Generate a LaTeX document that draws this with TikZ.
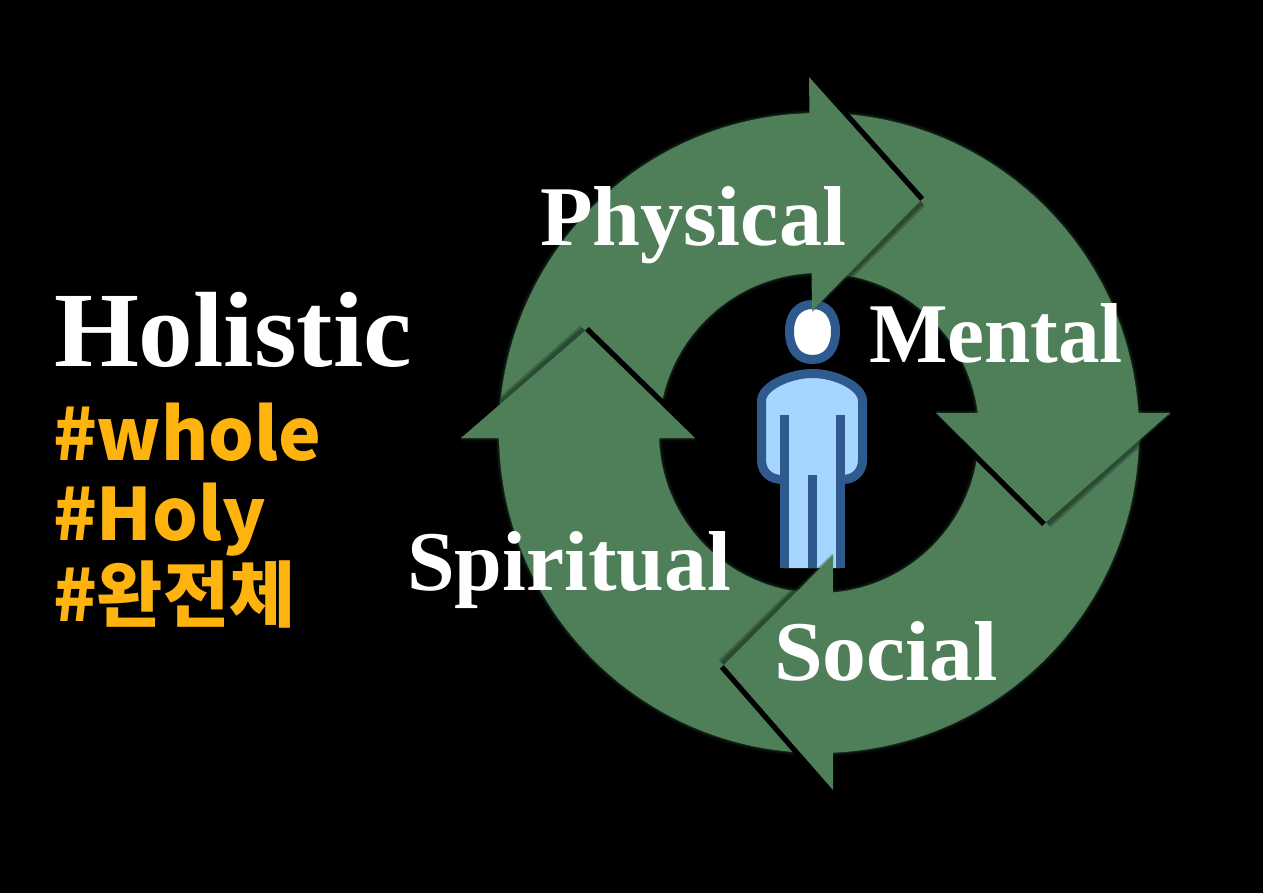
\documentclass[tikz,border=0pt]{standalone}
\usepackage{fontspec}
\usepackage{graphicx}
\usetikzlibrary{calc}
\newfontfamily\tagfont{Noto Sans CJK KR Black}
\newfontfamily\headfont{Liberation Serif}
\definecolor{ringgreen}{HTML}{4E7F59}
\definecolor{banddark}{HTML}{2A4A33}
\definecolor{bandmid}{HTML}{3A6345}
\definecolor{glowgreen}{HTML}{4E7F59}
\definecolor{pstroke}{HTML}{2E5A8E}
\definecolor{pfill}{HTML}{A6D5FF}
\definecolor{tagcol}{HTML}{FFB30F}
\tikzset{
  title/.style={text=white,anchor=base west,inner sep=0pt,outer sep=0pt},
  hashtag/.style={text=tagcol,anchor=base west,inner sep=0pt,outer sep=0pt,font=\tagfont\fontsize{72}{72}\selectfont},
  pline/.style={draw=pstroke,line width=9pt,line cap=butt,line join=round},
}
\newcommand\serifl[3]{\resizebox{#1pt}{\height}{\headfont\bfseries\fontsize{#2}{#2}\selectfont #3}}
% #6, #7 = turn angles at the two ends, giving the outer side of the edge
\newcommand\edgeband[7]{\fill[#4] (#1) -- ($(#1)!#3pt!#6:(#2)$) -- ($(#2)!#5*#3pt!#7:(#1)$) -- (#2) -- cycle;}
\begin{document}
\begin{tikzpicture}[x=1pt,y=-1pt]
\fill[black] (0,0) rectangle (1263,893);
\useasboundingbox (0,0) rectangle (1263,893);
\coordinate (c) at (819,433);
% a = corner on the black-shadow edge, t = tip, b = corner on the dark-green edge
\coordinate (a1) at (809,77);   \coordinate (t1) at (920,201); \coordinate (b1) at (812,311);
\coordinate (a2) at (936,413);  \coordinate (t2) at (1046,522);\coordinate (b2) at (1170,413);
\coordinate (a3) at (833,790);  \coordinate (t3) at (724,665); \coordinate (b3) at (833,555);
\coordinate (a4) at (695,438);  \coordinate (t4) at (585,331); \coordinate (b4) at (461,438);
% soft shadow round the ring and the head bases
\begin{scope}[shift={(2.5,2.5)}]
  \foreach \w/\o in {7/.06,4.5/.10,2/.16}{
    \draw[glowgreen,opacity=\o,line width=\w pt] (c) circle [radius=320] (c) circle [radius=160];
    \draw[glowgreen,opacity=\o,line width=\w pt] (a4) -- (b4);
    \draw[glowgreen,opacity=\o,line width=\w pt] (a2) -- (b2);
  }
\end{scope}
% person
\filldraw[fill=white,pline] (812.5,304.5)
  .. controls (827,304.5) and (835.5,315) .. (835.5,331)
  .. controls (835.5,349) and (827,359.5) .. (812.5,359.5)
  .. controls (798,359.5) and (789.5,349) .. (789.5,331)
  .. controls (789.5,315) and (798,304.5) .. (812.5,304.5) -- cycle;
\fill[pfill] (761.5,397) .. controls (770,384) and (792,373.5) .. (812.5,373.5)
  .. controls (833,373.5) and (855,384) .. (862.5,397)
  -- (862.5,460) .. controls (862.5,472) and (852,479.5) .. (840.5,479.5)
  -- (840.5,568) -- (784.5,568) -- (784.5,479.5)
  .. controls (772,479.5) and (761.5,472) .. (761.5,460) -- cycle;
\draw[pline] (784.5,479.5) -- (782,479.5) .. controls (770,479.5) and (761.5,472) .. (761.5,460)
  -- (761.5,401) .. controls (761.5,386) and (790,373.5) .. (812.5,373.5)
  .. controls (835,373.5) and (862.5,386) .. (862.5,401)
  -- (862.5,460) .. controls (862.5,472) and (854,479.5) .. (843,479.5) -- (840.5,479.5);
\draw[pline] (784.5,415) -- (784.5,568);
\draw[pline] (840.5,415) -- (840.5,568);
\draw[pline] (812.5,475) -- (812.5,568);
% ring
\fill[ringgreen,even odd rule] (c) circle [radius=320] (c) circle [radius=160];
% faint shadow over the black ground
\foreach \n/\p/\q in {1/90/-90,2/-90/90,3/90/-90}{
  \begin{scope}[opacity=.4]
  \edgeband{t\n}{b\n}{4.5}{banddark}{.3}{\p}{\q}
  \end{scope}
}
% shadow bands over the ring only
\begin{scope}[even odd rule]
  \clip (c) circle [radius=320] (c) circle [radius=160];
  \foreach \n/\p/\q in {1/90/-90,2/-90/90,3/90/-90,4/-90/90}{
    \edgeband{t\n}{b\n}{7}{bandmid}{.7}{\p}{\q}
    \edgeband{t\n}{b\n}{4.5}{banddark}{.7}{\p}{\q}
  }
\end{scope}
\foreach \n/\p/\q in {1/90/-90,2/-90/90,3/90/-90,4/-90/90}{
  \edgeband{a\n}{t\n}{5.5}{black}{1}{\p}{\q}
}
% heads
\fill[ringgreen] (a1) -- (t1) -- (b1) -- cycle;
\fill[ringgreen] (a2) -- (t2) -- (b2) -- cycle;
\fill[ringgreen] (a3) -- (t3) -- (b3) -- cycle;
\fill[ringgreen] (a4) -- (t4) -- (b4) -- cycle;
% texts
\node[title] (holistic) at (54,366) {\serifl{358}{107}{Holistic}};
\node[title] (physical) at (540,246) {\serifl{306}{85}{Physical}};
\node[title] (mental) at (869,362) {\serifl{254}{85}{Mental}};
\node[title] (social) at (774,680) {\serifl{224}{85}{Social}};
\node[title] (spiritual) at (407,590) {\serifl{324}{85}{Spiritual}};
\node[hashtag] (whole) at (53,460) {\#whole};
\node[hashtag] (holy) at (53,540) {\#Holy};
\node[hashtag] (wanjeon) at (53,621) {\#완전체};
\end{tikzpicture}
\end{document}
